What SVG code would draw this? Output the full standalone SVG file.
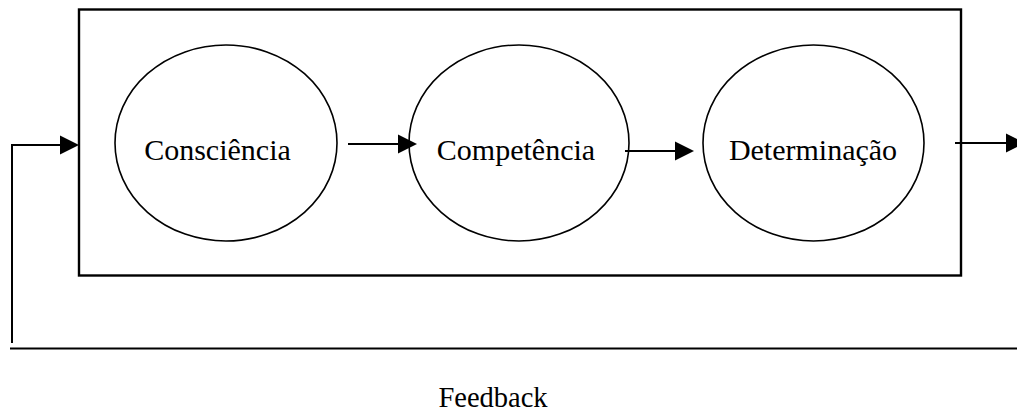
<svg xmlns="http://www.w3.org/2000/svg" width="1017" height="413" viewBox="0 0 1017 413">
  <style>
    .frame { fill: none; stroke: #000; stroke-width: 2.4; }
    .node ellipse { fill: #fff; stroke: #000; stroke-width: 1.6; }
    .label { font-family: "Liberation Serif", "Times New Roman", serif; font-size: 30px; fill: #000; text-anchor: middle; }
    .link { fill: none; stroke: #000; stroke-width: 2; }
    .caption { font-family: "Liberation Serif", "Times New Roman", serif; font-size: 28.5px; fill: #000; text-anchor: middle; }
  </style>
  <defs>
    <marker id="head" markerUnits="userSpaceOnUse" markerWidth="20" markerHeight="20" refX="0" refY="9.5" orient="auto" overflow="visible">
      <path d="M0,0 L19,9.5 L0,19 Z" fill="#000"/>
    </marker>
  </defs>

  <rect width="1017" height="413" fill="#fff"/>

  <!-- outer process frame -->
  <rect id="frame" class="frame" x="79" y="9.5" width="882" height="266"/>

  <!-- stages -->
  <g id="consciencia" class="node">
    <ellipse cx="226" cy="143" rx="111" ry="98"/>
    <text class="label" x="217.5" y="160">Consciência</text>
  </g>
  <g id="competencia" class="node">
    <ellipse cx="519" cy="143" rx="110" ry="98"/>
    <text class="label" x="516" y="160">Competência</text>
  </g>
  <g id="determinacao" class="node">
    <ellipse cx="813.5" cy="143" rx="110.5" ry="98"/>
    <text class="label" x="813" y="160">Determinação</text>
  </g>

  <!-- connectors -->
  <g id="connectors">
    <line class="link" x1="348" y1="144" x2="398" y2="144" marker-end="url(#head)"/>
    <line class="link" x1="625" y1="151" x2="675" y2="151" marker-end="url(#head)"/>
    <line class="link" x1="955" y1="143" x2="1006" y2="143" marker-end="url(#head)"/>
    <!-- feedback loop back into the frame -->
    <polyline class="link" points="12,343 12,145 60,145" marker-end="url(#head)"/>
    <line class="link" x1="10" y1="348.5" x2="1017" y2="348.5" stroke-width="2.4"/>
  </g>

  <text id="feedback-label" class="caption" x="493" y="407">Feedback</text>
</svg>
